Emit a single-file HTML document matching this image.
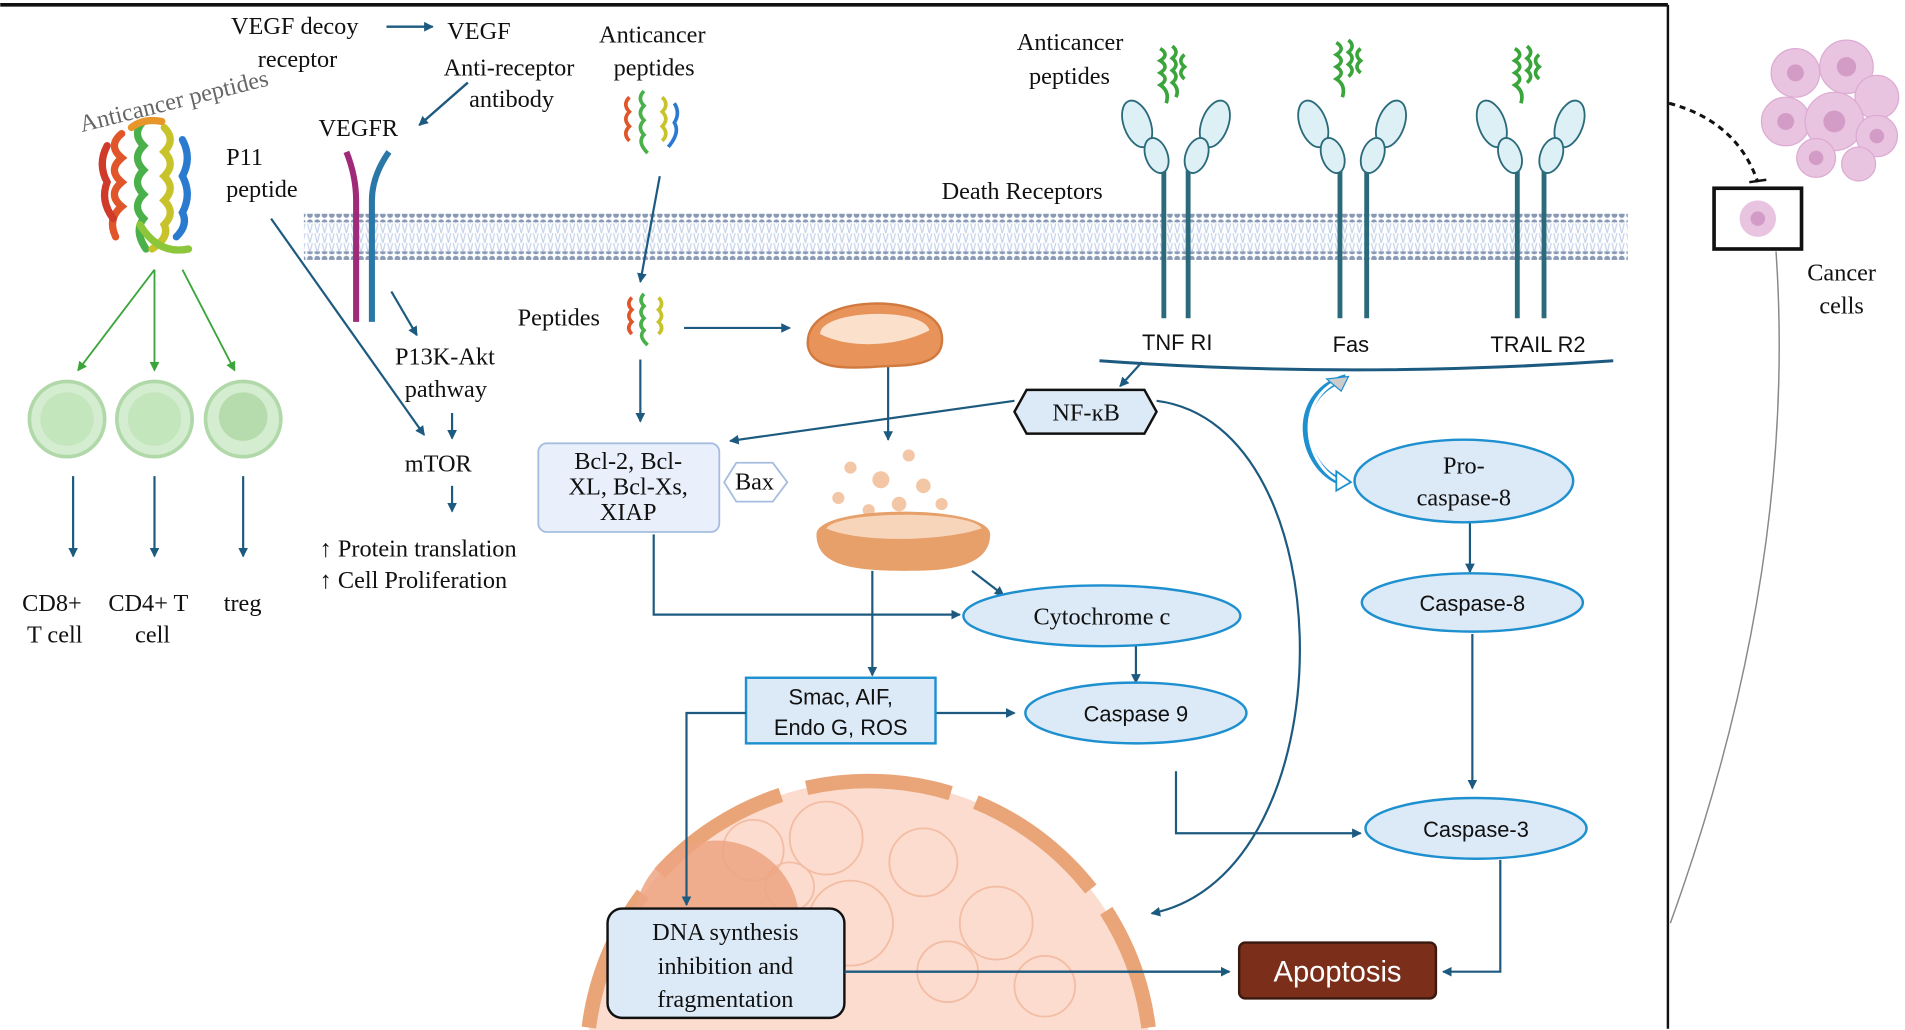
<!DOCTYPE html>
<html><head><meta charset="utf-8"><style>
html,body{margin:0;padding:0;background:#fff;width:1905px;height:1030px;overflow:hidden;}
svg{display:block;}
.s{font-family:"Liberation Serif",serif;font-size:20px;fill:#111;}
.a{font-family:"Liberation Sans",sans-serif;font-size:18px;fill:#111;}
</style></head><body>
<svg width="1905" height="1030" viewBox="0 0 1568 848" xmlns="http://www.w3.org/2000/svg" overflow="hidden">
<defs>
<marker id="ar" markerWidth="8" markerHeight="8" refX="7" refY="4" orient="auto" markerUnits="userSpaceOnUse"><path d="M0,0 L8,4 L0,8 z" fill="#1d5a80"/></marker>
<marker id="ag" markerWidth="8" markerHeight="8" refX="7" refY="4" orient="auto" markerUnits="userSpaceOnUse"><path d="M0,0 L8,4 L0,8 z" fill="#3aa53a"/></marker>
<pattern id="dots" width="6" height="6" patternUnits="userSpaceOnUse"><circle cx="3" cy="3" r="2.4" fill="#8a9ab5"/></pattern>
<pattern id="tails" width="6" height="8" patternUnits="userSpaceOnUse"><path d="M1,0 L3,8 M5,0 L3,8" stroke="#c6d3ea" stroke-width="1"/></pattern>
</defs>
<line x1="0" y1="4" x2="1373" y2="4" stroke="#111" stroke-width="3"/>
<line x1="1373" y1="4" x2="1373" y2="847" stroke="#111" stroke-width="2"/>
<rect x="250" y="183" width="1090" height="26" fill="url(#tails)"/>
<rect x="250" y="176" width="1090" height="7" fill="url(#dots)"/>
<rect x="250" y="207" width="1090" height="7" fill="url(#dots)"/>
<g fill="none" stroke-width="6" stroke-linecap="round">
<path d="M100,110 q-12,10 0,20 q-12,10 0,20 q-12,10 0,20 q-12,10 -5,25" stroke="#e0562a"/>
<path d="M118,100 q-10,10 0,20 q-10,10 0,20 q-10,10 0,20 q-10,10 0,20 q-8,10 2,25" stroke="#4ab04a"/>
<path d="M135,105 q10,10 0,20 q10,10 0,20 q10,10 0,20 q10,10 0,20 q5,10 -10,20" stroke="#c8c32a"/>
<path d="M150,115 q8,15 0,30 q8,15 0,30 q5,10 -5,20" stroke="#2a7ad0"/>
<path d="M88,120 q-8,15 0,30 q-6,15 5,30" stroke="#d03a2a"/>
<path d="M108,105 q10,-8 25,-5" stroke="#e8962a"/>
<path d="M115,185 q15,25 40,20" stroke="#8cc63a"/>
</g>
<text class="s" x="60" y="90" font-size="18" transform="rotate(-14 140 70)" style="fill:#666">Anticancer peptides</text>
<text class="s" x="186" y="136">P11</text>
<text class="s" x="186" y="162">peptide</text>
<g stroke="#3aa53a" stroke-width="1.5" marker-end="url(#ag)">
<line x1="127" y1="222" x2="64" y2="305"/><line x1="127" y1="222" x2="127" y2="305"/><line x1="150" y1="222" x2="193" y2="305"/>
</g>
<g fill="#d4eccf" stroke="#b0d8a8" stroke-width="3">
<circle cx="55" cy="345" r="31"/><circle cx="127" cy="345" r="31"/><circle cx="200" cy="345" r="31"/>
</g>
<circle cx="55" cy="345" r="22" fill="#c4e6bc"/><circle cx="127" cy="345" r="22" fill="#c4e6bc"/><circle cx="200" cy="343" r="20" fill="#b6dcad"/>
<g stroke="#1d5a80" stroke-width="1.8" marker-end="url(#ar)">
<line x1="60" y1="392" x2="60" y2="458"/><line x1="127" y1="392" x2="127" y2="458"/><line x1="200" y1="392" x2="200" y2="458"/>
</g>
<text class="s" x="18" y="503">CD8+</text><text class="s" x="22" y="529">T cell</text>
<text class="s" x="89" y="503">CD4+ T</text><text class="s" x="111" y="529">cell</text>
<text class="s" x="184" y="503">treg</text>
<text class="s" x="190" y="28">VEGF decoy</text><text class="s" x="212" y="55">receptor</text>
<line x1="318" y1="22" x2="356" y2="22" stroke="#1d5a80" stroke-width="2" marker-end="url(#ar)"/>
<text class="s" x="368" y="32">VEGF</text>
<text class="s" x="365" y="62">Anti-receptor</text><text class="s" x="386" y="88">antibody</text>
<line x1="385" y1="68" x2="345" y2="103" stroke="#1d5a80" stroke-width="2" marker-end="url(#ar)"/>
<text class="s" x="262" y="112">VEGFR</text>
<path d="M285,125 q8,20 8,40 L293,265" stroke="#a02a7a" stroke-width="5" fill="none"/>
<path d="M320,125 q-14,20 -14,40 L306,265" stroke="#2a78a8" stroke-width="5" fill="none"/>
<g stroke="#1d5a80" stroke-width="1.8" marker-end="url(#ar)">
<line x1="223" y1="180" x2="349" y2="358"/>
<line x1="322" y1="240" x2="343" y2="276"/>
<line x1="372" y1="340" x2="372" y2="361"/>
<line x1="372" y1="400" x2="372" y2="421"/>
<line x1="543" y1="145" x2="527" y2="232"/>
<line x1="563" y1="270" x2="650" y2="270"/>
<line x1="527" y1="296" x2="527" y2="347"/>
<line x1="835" y1="330" x2="601" y2="363"/>
<line x1="731" y1="300" x2="731" y2="362"/>
<line x1="800" y1="470" x2="826" y2="490"/>
<polyline points="538,440 538,506 790,506" fill="none"/>
<line x1="935" y1="531" x2="935" y2="562"/>
<line x1="718" y1="470" x2="718" y2="556"/>
<line x1="770" y1="587" x2="835" y2="587"/>
<polyline points="968,635 968,686 1120,686" fill="none"/>
<line x1="1212" y1="522" x2="1212" y2="649"/>
<line x1="1210" y1="430" x2="1210" y2="471"/>
<polyline points="1235,708 1235,800 1188,800" fill="none"/>
<line x1="940" y1="298" x2="922" y2="318"/>
<path d="M952,330 C1110,350 1110,720 948,752" fill="none"/>
</g>
<text class="s" x="325" y="300">P13K-Akt</text><text class="s" x="333" y="327">pathway</text>
<text class="s" x="333" y="388">mTOR</text>
<text class="s" x="263" y="458">↑ Protein translation</text>
<text class="s" x="263" y="484">↑   Cell Proliferation</text>
<text class="s" x="493" y="35">Anticancer</text><text class="s" x="505" y="62">peptides</text>
<g fill="none" stroke-width="3">
<path d="M518,80 q-6,6 0,12 q-6,6 0,12 q-6,6 0,12" stroke="#e0562a"/>
<path d="M530,75 q-6,6 0,12 q-6,6 0,12 q-6,6 0,12 q-6,6 3,15" stroke="#4ab04a"/>
<path d="M545,80 q6,6 0,12 q6,6 0,12 q6,6 0,12" stroke="#c8c32a"/>
<path d="M555,85 q5,8 0,16 q5,8 -5,20" stroke="#2a7ad0"/>
<path d="M520,245 q-5,5 0,10 q-5,5 0,10 q-5,5 0,10" stroke="#e0562a"/>
<path d="M530,242 q-5,5 0,10 q-5,5 0,10 q-5,5 0,10 q-5,5 3,12" stroke="#4ab04a"/>
<path d="M542,245 q5,5 0,10 q5,5 0,10 q5,5 0,10" stroke="#c8c32a"/>
</g>
<text class="s" x="426" y="268">Peptides</text>
<path d="M665,285 C660,240 770,240 775,275 C780,305 740,300 720,302 C690,304 668,302 665,285 z" fill="#e8935a" stroke="#d07a40" stroke-width="2"/>
<path d="M675,275 C675,255 760,252 765,272 C740,285 700,288 675,275 z" fill="#fbe0cc"/>
<g fill="#f3c7a6"><circle cx="700" cy="385" r="5"/><circle cx="725" cy="395" r="7"/><circle cx="748" cy="375" r="5"/><circle cx="760" cy="400" r="6"/><circle cx="690" cy="410" r="5"/><circle cx="740" cy="415" r="6"/><circle cx="715" cy="420" r="5"/><circle cx="775" cy="415" r="5"/></g>
<path d="M672,440 C672,415 815,415 815,440 C815,470 770,470 745,470 C700,470 672,465 672,440 z" fill="#e8a06a"/>
<path d="M680,435 C690,420 800,420 808,435 C780,445 710,448 680,435 z" fill="#f6d5bb"/>
<rect x="443" y="365" width="149" height="73" rx="7" fill="#e9f0fb" stroke="#a6bde0" stroke-width="1.5"/>
<text class="s" x="517" y="386" text-anchor="middle" font-size="19">Bcl-2, Bcl-</text>
<text class="s" x="517" y="407" text-anchor="middle" font-size="19">XL, Bcl-Xs,</text>
<text class="s" x="517" y="428" text-anchor="middle" font-size="19">XIAP</text>
<polygon points="596,397 606,381 636,381 648,397 636,413 606,413" fill="#fff" stroke="#a6bde0" stroke-width="1.5"/>
<text class="s" x="621" y="403" text-anchor="middle" font-size="18">Bax</text>
<g fill="#dce9f6" stroke="#1e90d0" stroke-width="2">
<ellipse cx="907" cy="507" rx="114" ry="25"/>
<ellipse cx="935" cy="587" rx="91" ry="25"/>
<ellipse cx="1205" cy="396" rx="90" ry="34"/>
<ellipse cx="1212" cy="496" rx="91" ry="24"/>
<ellipse cx="1215" cy="682" rx="91" ry="25"/>
</g>
<text class="s" x="907" y="514" text-anchor="middle">Cytochrome c</text>
<text class="a" x="935" y="594" text-anchor="middle">Caspase 9</text>
<text class="s" x="1205" y="390" text-anchor="middle">Pro-</text>
<text class="s" x="1205" y="416" text-anchor="middle">caspase-8</text>
<text class="a" x="1212" y="503" text-anchor="middle">Caspase-8</text>
<text class="a" x="1215" y="689" text-anchor="middle">Caspase-3</text>
<!-- nucleus -->
<path d="M484.6,848 A232,232 0 0 1 715,643 A232,232 0 0 1 945.4,848 Z" fill="#fbdccf"/>
<path d="M484.6,846 A232,232 0 0 1 715,643 A232,232 0 0 1 945.4,846" fill="none" stroke="#e9a477" stroke-width="12" stroke-dasharray="120 22" stroke-linecap="butt"/>
<g fill="none" stroke="#f2b69a" stroke-width="1.5" opacity="0.8">
<circle cx="620" cy="700" r="25"/><circle cx="680" cy="690" r="30"/><circle cx="760" cy="710" r="28"/><circle cx="820" cy="760" r="30"/><circle cx="700" cy="760" r="35"/><circle cx="780" cy="800" r="25"/><circle cx="860" cy="812" r="25"/><circle cx="650" cy="730" r="20"/>
</g>
<circle cx="590" cy="760" r="68" fill="#eca583" opacity="0.85"/>
<rect x="614" y="558" width="156" height="54" fill="#dce9f6" stroke="#1e90d0" stroke-width="2"/>
<text class="a" x="692" y="580" text-anchor="middle">Smac, AIF,</text>
<text class="a" x="692" y="605" text-anchor="middle">Endo G, ROS</text>
<polyline points="614,587 565,587 565,745" fill="none" stroke="#1d5a80" stroke-width="1.8" marker-end="url(#ar)"/>
<rect x="500" y="748" width="195" height="90" rx="12" fill="#dce9f6" stroke="#111" stroke-width="2"/>
<text class="s" x="597" y="774" text-anchor="middle">DNA synthesis</text>
<text class="s" x="597" y="802" text-anchor="middle">inhibition  and</text>
<text class="s" x="597" y="829" text-anchor="middle">fragmentation</text>
<line x1="695" y1="800" x2="1012" y2="800" stroke="#1d5a80" stroke-width="2" marker-end="url(#ar)"/>
<rect x="1020" y="776" width="162" height="46" rx="5" fill="#7b2e1a" stroke="#3a1a10" stroke-width="2"/>
<text x="1101" y="808" text-anchor="middle" style="font-family:'Liberation Sans',sans-serif;font-size:24px;fill:#fff">Apoptosis</text>
<polygon points="835,339 845,321 942,321 952,339 942,357 845,357" fill="#dce9f6" stroke="#111" stroke-width="2"/>
<text class="s" x="894" y="346" text-anchor="middle">NF-ĸB</text>
<text class="s" x="775" y="164">Death Receptors</text>
<text class="s" x="837" y="41">Anticancer</text><text class="s" x="847" y="69">peptides</text>
<g stroke="#2a6a7a" stroke-width="4"><line x1="958" y1="130" x2="958" y2="262"/><line x1="978" y1="130" x2="978" y2="262"/>
<line x1="1103" y1="130" x2="1103" y2="262"/><line x1="1125" y1="130" x2="1125" y2="262"/>
<line x1="1249" y1="130" x2="1249" y2="262"/><line x1="1271" y1="130" x2="1271" y2="262"/></g>
<g fill="#dcf0f6" stroke="#2a6a7a" stroke-width="1.5">
<ellipse cx="936" cy="102" rx="11" ry="20" transform="rotate(-20 936 102)"/><ellipse cx="952" cy="128" rx="9" ry="15" transform="rotate(-20 952 128)"/>
<ellipse cx="1000" cy="102" rx="11" ry="20" transform="rotate(20 1000 102)"/><ellipse cx="985" cy="128" rx="9" ry="15" transform="rotate(20 985 128)"/>
<ellipse cx="1081" cy="102" rx="11" ry="20" transform="rotate(-20 1081 102)"/><ellipse cx="1097" cy="128" rx="9" ry="15" transform="rotate(-20 1097 128)"/>
<ellipse cx="1145" cy="102" rx="11" ry="20" transform="rotate(20 1145 102)"/><ellipse cx="1130" cy="128" rx="9" ry="15" transform="rotate(20 1130 128)"/>
<ellipse cx="1228" cy="102" rx="11" ry="20" transform="rotate(-20 1228 102)"/><ellipse cx="1243" cy="128" rx="9" ry="15" transform="rotate(-20 1243 128)"/>
<ellipse cx="1292" cy="102" rx="11" ry="20" transform="rotate(20 1292 102)"/><ellipse cx="1277" cy="128" rx="9" ry="15" transform="rotate(20 1277 128)"/>
</g>
<g fill="none" stroke="#3aa53a" stroke-width="3">
<path d="M955,40 q8,5 0,10 q8,5 0,10 q8,5 0,10 q8,5 5,15 M965,38 q6,5 0,10 q6,5 0,10 q6,5 0,10 q6,5 3,12 M975,45 q-6,5 0,10 q-6,5 0,10"/>
<path d="M1100,35 q8,5 0,10 q8,5 0,10 q8,5 0,10 q8,5 5,15 M1110,33 q6,5 0,10 q6,5 0,10 q6,5 0,10 M1120,40 q-6,5 0,10 q-6,5 0,10"/>
<path d="M1247,40 q8,5 0,10 q8,5 0,10 q8,5 0,10 q8,5 5,15 M1257,38 q6,5 0,10 q6,5 0,10 q6,5 0,10 M1267,45 q-6,5 0,10 q-6,5 0,10"/>
</g>
<text class="a" x="969" y="288" text-anchor="middle">TNF RI</text>
<text class="a" x="1112" y="290" text-anchor="middle">Fas</text>
<text class="a" x="1266" y="290" text-anchor="middle">TRAIL R2</text>
<path d="M905,297 Q1115,312 1328,297" fill="none" stroke="#1d5a80" stroke-width="2.5"/>
<path d="M1108,311 C1060,325 1070,385 1105,397" fill="none" stroke="#1e90d0" stroke-width="6"/>
<path d="M1108,311 C1063,325 1073,385 1105,397" fill="none" stroke="#fff" stroke-width="2.5"/>
<polygon points="1100,388 1112,397 1100,404" fill="#fff" stroke="#1e90d0" stroke-width="1.5"/>
<polygon points="1092,312 1110,310 1104,322" fill="#ccc" stroke="#1e90d0" stroke-width="1"/>
<g fill="#e9c4e0" stroke="#dcaad2" stroke-width="1">
<circle cx="1478" cy="60" r="20"/><circle cx="1520" cy="55" r="22"/><circle cx="1545" cy="80" r="18"/><circle cx="1470" cy="100" r="20"/><circle cx="1510" cy="100" r="24"/><circle cx="1545" cy="112" r="17"/><circle cx="1495" cy="130" r="16"/><circle cx="1530" cy="135" r="14"/>
</g>
<g fill="#d39cc7"><circle cx="1478" cy="60" r="7"/><circle cx="1520" cy="55" r="8"/><circle cx="1470" cy="100" r="7"/><circle cx="1510" cy="100" r="9"/><circle cx="1545" cy="112" r="6"/><circle cx="1495" cy="130" r="6"/></g>
<path d="M1374,85 Q1430,100 1447,150" fill="none" stroke="#111" stroke-width="2.5" stroke-dasharray="5 4"/>
<line x1="1440" y1="150" x2="1454" y2="148" stroke="#111" stroke-width="2"/>
<rect x="1411" y="155" width="72" height="50" fill="#fff" stroke="#111" stroke-width="3"/>
<circle cx="1447" cy="180" r="15" fill="#e9c4e0"/><circle cx="1447" cy="180" r="6" fill="#d39cc7"/>
<path d="M1462,207 Q1480,470 1375,760" fill="none" stroke="#888" stroke-width="1.2"/>
<text class="s" x="1516" y="231" text-anchor="middle">Cancer</text>
<text class="s" x="1516" y="258" text-anchor="middle">cells</text>
</svg>
</body></html>
